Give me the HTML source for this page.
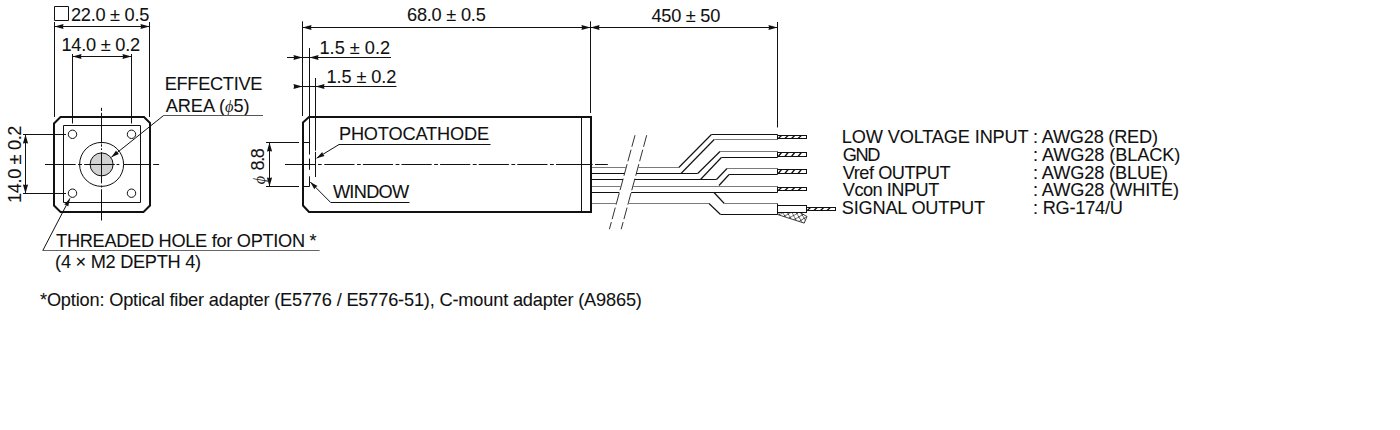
<!DOCTYPE html>
<html><head><meta charset="utf-8"><style>
html,body{margin:0;padding:0;background:#fff;overflow:hidden;}
svg{display:block;}
text{font-family:"Liberation Sans",sans-serif;fill:#111;stroke:#111;stroke-width:0.08px;white-space:pre;}
</style></head><body>
<svg width="1400" height="430" viewBox="0 0 1400 430">
<defs><pattern id="hatch" width="5.5" height="5.5" patternUnits="userSpaceOnUse" patternTransform="rotate(15)"><path d="M0,0 L5.5,5.5 M5.5,0 L0,5.5" stroke="#111" stroke-width="0.7"/></pattern></defs>
<rect width="1400" height="430" fill="#fff"/>
<path d="M54.5,6.5 H68.5 V20.5 H54.5 Z" fill="none" stroke="#111" stroke-width="1" />
<text x="71.00" y="20.5" font-size="18.2" textLength="78.28" lengthAdjust="spacing">22.0 ± 0.5</text>
<line x1="54.5" y1="22" x2="54.5" y2="117" stroke="#111" stroke-width="1"/>
<line x1="149.5" y1="22" x2="149.5" y2="117" stroke="#111" stroke-width="1"/>
<line x1="54.5" y1="26.5" x2="149.5" y2="26.5" stroke="#111" stroke-width="1"/>
<path d="M54.50,26.50 L63.50,23.90 L62.96,26.50 L63.50,29.10 Z" fill="#111"/>
<path d="M149.50,26.50 L140.50,29.10 L141.04,26.50 L140.50,23.90 Z" fill="#111"/>
<text x="61.40" y="50.6" font-size="18.2" textLength="78.68" lengthAdjust="spacing">14.0 ± 0.2</text>
<line x1="72.5" y1="54" x2="72.5" y2="123.5" stroke="#111" stroke-width="1"/>
<line x1="131.5" y1="54" x2="131.5" y2="123.5" stroke="#111" stroke-width="1"/>
<line x1="72.5" y1="56.5" x2="131.5" y2="56.5" stroke="#111" stroke-width="1"/>
<path d="M72.50,56.50 L81.50,53.90 L80.96,56.50 L81.50,59.10 Z" fill="#111"/>
<path d="M131.50,56.50 L122.50,59.10 L123.04,56.50 L122.50,53.90 Z" fill="#111"/>
<path d="M60.5,117 H144 L150,123 V205.5 L143.5,212 H60.5 L54,205.5 V123.5 Z" fill="none" stroke="#111" stroke-width="2" />
<path d="M63.5,125.5 H140.5 V202.5 H63.5 Z" fill="none" stroke="#111" stroke-width="1" />
<circle cx="72.5" cy="134.3" r="4.2" fill="none" stroke="#111" stroke-width="1"/>
<circle cx="72.5" cy="193.2" r="4.2" fill="none" stroke="#111" stroke-width="1"/>
<circle cx="131.5" cy="134.3" r="4.2" fill="none" stroke="#111" stroke-width="1"/>
<circle cx="131.5" cy="193.2" r="4.2" fill="none" stroke="#111" stroke-width="1"/>
<circle cx="101.6" cy="164.4" r="22" fill="none" stroke="#111" stroke-width="1"/>
<circle cx="101.6" cy="164.4" r="11.5" fill="#d2d2d2" stroke="#111" stroke-width="1"/>
<path d="M45,164.5 H75.7 M78,164.5 H82 M84.1,164.5 H114.8 M116.5,164.5 H119.3 M123.7,164.5 H151 M153.2,164.5 H159.1" fill="none" stroke="#111" stroke-width="1" />
<path d="M101.5,107.8 V111 M101.5,112.8 V143.5 M101.5,144.3 V146.7 M101.5,148.3 V150 M101.5,152.2 V183.4 M101.5,185.5 V187.5 M101.5,189.2 V220.5" fill="none" stroke="#111" stroke-width="1" />
<line x1="23" y1="134.5" x2="66" y2="134.5" stroke="#111" stroke-width="1"/>
<line x1="23" y1="193.5" x2="66" y2="193.5" stroke="#111" stroke-width="1"/>
<line x1="25.5" y1="134.5" x2="25.5" y2="193.5" stroke="#111" stroke-width="1"/>
<path d="M25.50,134.50 L28.10,143.50 L25.50,142.96 L22.90,143.50 Z" fill="#111"/>
<path d="M25.50,193.50 L22.90,184.50 L25.50,185.04 L28.10,184.50 Z" fill="#111"/>
<text x="0" y="0" font-size="18.2" textLength="77.48" lengthAdjust="spacing" transform="translate(20.5,203.00) rotate(-90)">14.0 ± 0.2</text>
<text x="164.70" y="89.9" font-size="18.2" textLength="97.65" lengthAdjust="spacing">EFFECTIVE</text>
<text x="165.70" y="111.7" font-size="18.2" textLength="83.80" lengthAdjust="spacing">AREA (<tspan style="font-family:'Liberation Serif';font-style:italic;font-size:0.9em;stroke:none;fill:#222">ϕ</tspan>5)</text>
<path d="M263,115.5 H163.6" fill="none" stroke="#555" stroke-width="1" />
<path d="M163.6,115.5 L111.3,157.3" fill="none" stroke="#111" stroke-width="1" />
<path d="M111.30,157.30 L116.11,150.51 L117.17,152.61 L118.99,154.10 Z" fill="#111"/>
<text x="56.10" y="246.5" font-size="18.2" textLength="260.51" lengthAdjust="spacing">THREADED HOLE for OPTION *</text>
<text x="55.10" y="267.5" font-size="18.2" textLength="145.99" lengthAdjust="spacing">(4 × M2 DEPTH 4)</text>
<path d="M319.6,250.5 H42.8" fill="none" stroke="#666" stroke-width="1" />
<path d="M42.8,250.5 L69.9,198.4" fill="none" stroke="#111" stroke-width="1" />
<path d="M69.90,198.40 L68.25,206.56 L66.43,205.07 L64.17,204.44 Z" fill="#111"/>
<text x="407.00" y="20.9" font-size="18.2" textLength="78.78" lengthAdjust="spacing">68.0 ± 0.5</text>
<line x1="302.5" y1="21.3" x2="302.5" y2="116" stroke="#111" stroke-width="1"/>
<line x1="590.5" y1="21.3" x2="590.5" y2="113" stroke="#111" stroke-width="1"/>
<line x1="302.5" y1="27.5" x2="590.5" y2="27.5" stroke="#111" stroke-width="1"/>
<path d="M302.50,27.50 L311.50,24.90 L310.96,27.50 L311.50,30.10 Z" fill="#111"/>
<path d="M590.50,27.50 L581.50,30.10 L582.04,27.50 L581.50,24.90 Z" fill="#111"/>
<text x="651.50" y="22" font-size="18.2" textLength="68.77" lengthAdjust="spacing">450 ± 50</text>
<line x1="777.5" y1="22" x2="777.5" y2="127.5" stroke="#111" stroke-width="1"/>
<line x1="590.5" y1="27.5" x2="777.5" y2="27.5" stroke="#111" stroke-width="1"/>
<path d="M590.50,27.50 L599.50,24.90 L598.96,27.50 L599.50,30.10 Z" fill="#111"/>
<path d="M777.50,27.50 L768.50,30.10 L769.04,27.50 L768.50,24.90 Z" fill="#111"/>
<text x="319.50" y="53.9" font-size="18.2" textLength="70.56" lengthAdjust="spacing">1.5 ± 0.2</text>
<line x1="287" y1="57.5" x2="391" y2="57.5" stroke="#111" stroke-width="1"/>
<path d="M302.50,57.50 L293.50,60.10 L294.04,57.50 L293.50,54.90 Z" fill="#111"/>
<path d="M309.50,57.50 L318.50,54.90 L317.96,57.50 L318.50,60.10 Z" fill="#111"/>
<path d="M309.5,48 V154.6 M309.5,158.5 V169.8 M309.5,176.3 V186.5" fill="none" stroke="#111" stroke-width="1" />
<text x="326.40" y="83.1" font-size="18.2" textLength="70.06" lengthAdjust="spacing">1.5 ± 0.2</text>
<line x1="294" y1="86.5" x2="396.5" y2="86.5" stroke="#111" stroke-width="1"/>
<path d="M302.50,86.50 L293.50,89.10 L294.04,86.50 L293.50,83.90 Z" fill="#111"/>
<path d="M315.50,86.50 L324.50,83.90 L323.96,86.50 L324.50,89.10 Z" fill="#111"/>
<path d="M315.5,78 V150.7 M315.5,151.9 V177" fill="none" stroke="#111" stroke-width="1" />
<path d="M309,117 H591 V212 H309 L303,205.5 V122.5 Z" fill="none" stroke="#111" stroke-width="2" />
<line x1="581.5" y1="117" x2="581.5" y2="212" stroke="#111" stroke-width="1"/>
<path d="M303,142.5 H309.5 M303,186.5 H309.5" fill="none" stroke="#111" stroke-width="1" />
<line x1="266" y1="142.5" x2="299" y2="142.5" stroke="#111" stroke-width="1"/>
<line x1="266" y1="186.5" x2="299" y2="186.5" stroke="#111" stroke-width="1"/>
<line x1="269.5" y1="142.5" x2="269.5" y2="186.5" stroke="#111" stroke-width="1"/>
<path d="M269.50,142.50 L272.10,151.50 L269.50,150.96 L266.90,151.50 Z" fill="#111"/>
<path d="M269.50,186.50 L266.90,177.50 L269.50,178.04 L272.10,177.50 Z" fill="#111"/>
<text x="0" y="0" font-size="18.2" textLength="22.60" lengthAdjust="spacing" transform="translate(264,170.60) rotate(-90)">8.8</text>
<text x="0" y="0" font-size="16.4" transform="translate(264.5,184.2) rotate(-90)" style="font-family:'Liberation Serif';font-style:italic;stroke:none;fill:#222">ϕ</text>
<path d="M285,164.5 H315.5 M318,164.5 H321.7 M324.3,164.5 H354.5 M362.90000000000003,164.5 H393.1 M401.5,164.5 H431.7 M440.1,164.5 H470.3 M478.70000000000005,164.5 H508.9 M517.3,164.5 H547.5 M357.0,164.5 H360.8 M395.6,164.5 H399.40000000000003 M434.2,164.5 H438.0 M472.8,164.5 H476.6 M511.4,164.5 H515.2 M550.0,164.5 H553.8 M556,164.5 H592.7 M595,164.5 H607.8" fill="none" stroke="#111" stroke-width="1" />
<text x="338.90" y="139.8" font-size="18.2" textLength="150.22" lengthAdjust="spacing">PHOTOCATHODE</text>
<path d="M490.5,144.5 H339 L316.6,158.2" fill="none" stroke="#111" stroke-width="1" />
<path d="M316.60,158.20 L322.22,152.06 L323.02,154.28 L324.62,155.99 Z" fill="#111"/>
<text x="332.90" y="197.9" font-size="18.2" textLength="76.31" lengthAdjust="spacing">WINDOW</text>
<path d="M409.5,202.5 H330.7 L310.3,182" fill="none" stroke="#111" stroke-width="1" />
<path d="M310.30,182.00 L317.57,186.05 L315.60,187.33 L314.31,189.29 Z" fill="#111"/>
<line x1="635" y1="135.2" x2="609.4" y2="229.2" stroke="#333" stroke-width="1" stroke-dasharray="12,3"/>
<line x1="646.7" y1="135.2" x2="621.2" y2="229.2" stroke="#333" stroke-width="1" stroke-dasharray="12,3"/>
<line x1="592" y1="167.5" x2="626.2" y2="167.5" stroke="#7a7a7a" stroke-width="1"/>
<line x1="592" y1="173.5" x2="624.57" y2="173.5" stroke="#111" stroke-width="1"/>
<line x1="592" y1="179.5" x2="622.94" y2="179.5" stroke="#111" stroke-width="1"/>
<line x1="592" y1="186.5" x2="621.03" y2="186.5" stroke="#7a7a7a" stroke-width="1"/>
<line x1="592" y1="192.5" x2="619.39" y2="192.5" stroke="#111" stroke-width="1"/>
<line x1="592" y1="203.5" x2="616.4" y2="203.5" stroke="#7a7a7a" stroke-width="1"/>
<path d="M637.94,167.5 H678.8" fill="none" stroke="#7a7a7a" stroke-width="1" />
<path d="M678.8,167.5 L711.4,134.5" fill="none" stroke="#111" stroke-width="1.15" />
<path d="M711.40,134.5 H777.5" fill="none" stroke="#111" stroke-width="1" />
<path d="M681,173.5 L714.2,139.5" fill="none" stroke="#111" stroke-width="1.15" />
<path d="M714.20,139.5 H777.5" fill="none" stroke="#7a7a7a" stroke-width="1" />
<path d="M636.31,173.5 H697.7" fill="none" stroke="#111" stroke-width="1" />
<path d="M697.7,173.5 L720,151.5" fill="none" stroke="#111" stroke-width="1.15" />
<path d="M720.00,151.5 H777.5" fill="none" stroke="#7a7a7a" stroke-width="1" />
<path d="M700.5,179.5 L721.4,157.5" fill="none" stroke="#111" stroke-width="1.15" />
<path d="M721.40,157.5 H777.5" fill="none" stroke="#111" stroke-width="1" />
<path d="M634.68,179.5 H716.5" fill="none" stroke="#111" stroke-width="1" />
<path d="M716.5,179.5 L727,168.5" fill="none" stroke="#111" stroke-width="1.15" />
<path d="M727.00,168.5 H777.5" fill="none" stroke="#7a7a7a" stroke-width="1" />
<path d="M719,185.5 L729.1,174.5" fill="none" stroke="#111" stroke-width="1.15" />
<path d="M729.10,174.5 H777.5" fill="none" stroke="#111" stroke-width="1" />
<path d="M632.78,186.5 H777.5" fill="none" stroke="#7a7a7a" stroke-width="1" />
<path d="M631.16,192.5 H777.5" fill="none" stroke="#111" stroke-width="1" />
<path d="M714,192.5 L724.3,203.5" fill="none" stroke="#111" stroke-width="1.15" />
<path d="M724.30,203.5 H777.5" fill="none" stroke="#7a7a7a" stroke-width="1" />
<path d="M628.17,203.5 H709" fill="none" stroke="#7a7a7a" stroke-width="1" />
<path d="M709,203.5 L720.5,214.5" fill="none" stroke="#111" stroke-width="1.15" />
<path d="M720.50,214.5 H777.5" fill="none" stroke="#111" stroke-width="1" />
<line x1="777.5" y1="134.5" x2="777.5" y2="139.5" stroke="#111" stroke-width="1"/>
<rect x="777.5" y="135.5" width="29.0" height="3.0" fill="#fff" stroke="#111" stroke-width="1"/>
<path d="M778.30,138.5 L781.50,135.5 M784.90,138.5 L788.10,135.5 M791.50,138.5 L794.70,135.5 M798.10,138.5 L801.30,135.5" fill="none" stroke="#111" stroke-width="1.3" />
<line x1="777.5" y1="151.5" x2="777.5" y2="157.5" stroke="#111" stroke-width="1"/>
<rect x="777.5" y="152.5" width="29.0" height="4.0" fill="#fff" stroke="#111" stroke-width="1"/>
<path d="M778.30,156.5 L781.50,152.5 M784.90,156.5 L788.10,152.5 M791.50,156.5 L794.70,152.5 M798.10,156.5 L801.30,152.5" fill="none" stroke="#111" stroke-width="1.3" />
<line x1="777.5" y1="168.5" x2="777.5" y2="174.5" stroke="#111" stroke-width="1"/>
<rect x="777.5" y="169.5" width="29.0" height="4.0" fill="#fff" stroke="#111" stroke-width="1"/>
<path d="M778.30,173.5 L781.50,169.5 M784.90,173.5 L788.10,169.5 M791.50,173.5 L794.70,169.5 M798.10,173.5 L801.30,169.5" fill="none" stroke="#111" stroke-width="1.3" />
<line x1="777.5" y1="186.5" x2="777.5" y2="192.5" stroke="#111" stroke-width="1"/>
<rect x="777.5" y="187.5" width="29.0" height="3.0" fill="#fff" stroke="#111" stroke-width="1"/>
<path d="M778.30,190.5 L781.50,187.5 M784.90,190.5 L788.10,187.5 M791.50,190.5 L794.70,187.5 M798.10,190.5 L801.30,187.5" fill="none" stroke="#111" stroke-width="1.3" />
<line x1="777.5" y1="203.5" x2="777.5" y2="214.5" stroke="#111" stroke-width="1"/>
<rect x="777.5" y="205.5" width="29" height="7" fill="#fff" stroke="#111" stroke-width="1"/>
<rect x="806.5" y="207.5" width="29.0" height="3.0" fill="#fff" stroke="#111" stroke-width="1"/>
<path d="M807.30,210.5 L810.50,207.5 M813.90,210.5 L817.10,207.5 M820.50,210.5 L823.70,207.5 M827.10,210.5 L830.30,207.5" fill="none" stroke="#111" stroke-width="1.3" />
<path d="M777.5,212.5 H800 L807,216.5 L804.2,223.1 L777.5,214.5 Z" fill="url(#hatch)" stroke="#111" stroke-width="0.8"/>
<text x="841.80" y="142.7" font-size="18.2" textLength="186.91" lengthAdjust="spacing">LOW VOLTAGE INPUT</text>
<text x="1033.00" y="142.7" font-size="18.2" textLength="124.97" lengthAdjust="spacing">: AWG28 (RED)</text>
<text x="842.80" y="160.8" font-size="18.2" textLength="37.62" lengthAdjust="spacing">GND</text>
<text x="1033.00" y="160.8" font-size="18.2" textLength="147.32" lengthAdjust="spacing">: AWG28 (BLACK)</text>
<text x="842.80" y="178.8" font-size="18.2" textLength="107.70" lengthAdjust="spacing">Vref OUTPUT</text>
<text x="1033.00" y="178.8" font-size="18.2" textLength="135.08" lengthAdjust="spacing">: AWG28 (BLUE)</text>
<text x="842.80" y="196.2" font-size="18.2" textLength="96.48" lengthAdjust="spacing">Vcon INPUT</text>
<text x="1033.00" y="196.2" font-size="18.2" textLength="146.17" lengthAdjust="spacing">: AWG28 (WHITE)</text>
<text x="841.80" y="213.6" font-size="18.2" textLength="143.36" lengthAdjust="spacing">SIGNAL OUTPUT</text>
<text x="1033.00" y="213.6" font-size="18.2" textLength="89.98" lengthAdjust="spacing">: RG-174/U</text>
<text x="40.00" y="305.8" font-size="18.2" textLength="601.89" lengthAdjust="spacing">*Option: Optical fiber adapter (E5776 / E5776-51), C-mount adapter (A9865)</text>
</svg>
</body></html>
